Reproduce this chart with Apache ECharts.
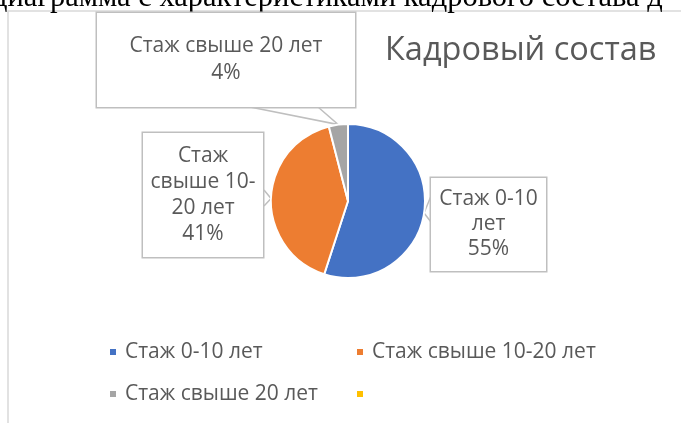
<!DOCTYPE html>
<html>
<head>
<meta charset="utf-8">
<script src="https://cdn.jsdelivr.net/npm/echarts@6/dist/echarts.min.js"></script>
<style>
html,body{margin:0;padding:0;background:#fff;}
#chart{width:681px;height:423px;}
</style>
</head>
<body>
<div id="chart"></div>
<script>
// ---- data ----
const categories = ['Стаж 0-10 лет', 'Стаж свыше 10-20 лет', 'Стаж свыше 20 лет', ' '];
const values = [55, 41, 4, 0];
const labelNames = ['Стаж 0-10\nлет', 'Стаж\nсвыше 10-\n20 лет', 'Стаж свыше 20 лет', ''];
const colors = ['#4472C4', '#ED7D31', '#A5A5A5', '#FFC000'];
const chartTitle = 'Кадровый состав';
const captionAbove = 'диаграмма с характеристиками кадрового состава д';

// ---- layout (positions of callout boxes and wedge bases, not data) ----
const labelPos = [[488.5, 224.5], [203, 195], [226, 60], [0, 0]];
const labelBox = [
  {width: 103, padding: [9, 6], lineHeight: 25},
  {width: 108, padding: [10, 6], lineHeight: 26},
  {width: 240, padding: [20, 9], lineHeight: 27},
  {width: 10, padding: 0, lineHeight: 20}
];
const wedgeBase = [
  [[431, 196], [431, 222]],
  [[264, 190], [264, 206]],
  [[250, 107], [318, 107]],
  null
];

const data = categories.map((name, i) => {
  const item = {name: name, value: values[i], itemStyle: {color: colors[i]}};
  if (!labelNames[i]) {
    item.label = {show: false};
    item.labelLine = {show: false};
  } else {
    item.label = {width: labelBox[i].width, padding: labelBox[i].padding, lineHeight: labelBox[i].lineHeight};
  }
  return item;
});

const chart = echarts.init(document.getElementById('chart'));
chart.setOption({
  animation: false,
  backgroundColor: '#fff',
  title: {
    text: chartTitle,
    left: 380,
    top: 29,
    textStyle: {fontFamily: 'Open Sans', fontSize: 32.5, fontWeight: 'normal', color: '#595959'}
  },
  graphic: [
    {type: 'rect', shape: {x: 8, y: 11, width: 720, height: 480}, style: {fill: 'none', stroke: '#d9d9d9', lineWidth: 1.5}, silent: true, z: -10},
    {type: 'text', x: -8, y: 13, style: {text: captionAbove, font: '30.5px "Liberation Serif"', fill: '#000', textVerticalAlign: 'bottom'}, silent: true}
  ],
  legend: {
    left: 108,
    top: 333,
    width: 560,
    padding: 0,
    orient: 'horizontal',
    icon: 'rect',
    itemWidth: 8,
    itemHeight: 8,
    itemGap: 4,
    data: categories,
    selectedMode: false,
    textStyle: {fontFamily: 'Open Sans', fontSize: 21, color: '#595959', width: 226, padding: [0, 0, 0, 3], lineHeight: 38}
  },
  series: [{
    type: 'pie',
    center: [348, 201],
    radius: 77,
    startAngle: 90,
    clockwise: true,
    avoidLabelOverlap: false,
    itemStyle: {borderColor: '#fff', borderWidth: 2},
    data: data,
    label: {
      show: true,
      formatter: p => labelNames[p.dataIndex] + '\n' + p.percent + '%',
      fontFamily: 'Open Sans',
      fontSize: 21,
      color: '#595959',
      align: 'center',
      backgroundColor: '#fff',
      borderColor: '#bfbfbf',
      borderWidth: 1.5
    },
    labelLine: {show: true, length: 6, length2: 4, lineStyle: {color: '#bfbfbf', width: 1.5}},
    labelLayout: params => {
      const i = params.dataIndex;
      const out = {
        x: labelPos[i][0],
        y: labelPos[i][1],
        align: 'center',
        verticalAlign: 'middle'
      };
      if (wedgeBase[i] && params.labelLinePoints) {
        const tip = params.labelLinePoints[0];
        out.labelLinePoints = [wedgeBase[i][0], tip, wedgeBase[i][1]];
      }
      return out;
    },
    emphasis: {disabled: true}
  }]
});
</script>
</body>
</html>
